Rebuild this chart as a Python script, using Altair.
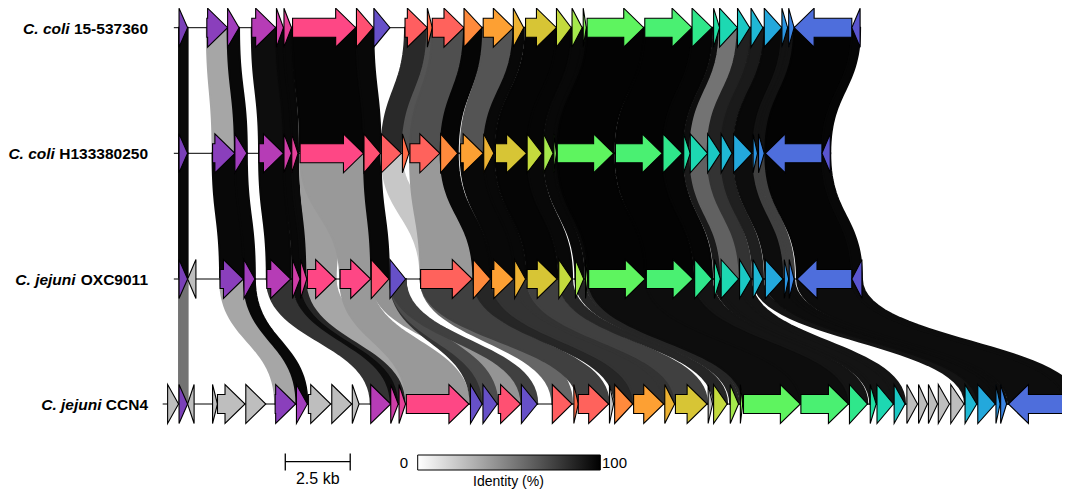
import altair as alt
import numpy as np
import pandas as pd

# ---------------- data ----------------
LABEL_SPECIES = ["C. coli", "C. coli", "C. jejuni", "C. jejuni"]
LABEL_STRAIN = ["15-537360", "H133380250", "OXC9011", "CCN4"]

FAMILIES = ["purple1", "purple2", "purple3", "magenta", "magenta2", "pink1", "pinkbig", "pinkred",
            "bluev", "salmon1", "orred", "salmon2", "orange1", "orange2", "yelor", "yellow",
            "yelgrn", "ltgrn", "tgrn", "green1", "green2", "grteal", "teal0", "teal1", "tealcy",
            "cyan", "sky", "blue1", "blue2", "bigblue", "violet", "other"]
FAMILY_COLORS = ["#7A40B8", "#8A3FBC", "#A13DBD", "#B63CB6", "#CF3DA8", "#E6419A", "#FE4785", "#FF5072",
                 "#6650C8", "#FF5E60", "#FF6C48", "#FF625C", "#FF8A3C", "#FDA033", "#EDB232", "#D7C535",
                 "#C4DA3D", "#A5E94C", "#85F056", "#5EF45F", "#4AF072", "#2FE78B", "#22DEA2", "#1DD8B2",
                 "#1BC8C4", "#1FB8D4", "#23A8DC", "#2A95E2", "#3A84E3", "#4E6EDC", "#5A55CF", "#BEBEBE"]

# locus extents (kb)
TRACK_START = [0.50, 0.50, 0.50, 0.07]
TRACK_END = [26.92, 25.77, 26.99, 35.38]

# genes (kb)
T1_START = [0.70, 1.77, 2.57, 3.50, 4.45, 4.74, 5.07, 7.53, 8.20, 9.40, 10.26, 10.45, 11.67, 12.41, 13.57,
            14.04, 15.23, 15.83, 16.26, 16.41, 18.63, 20.45, 21.28, 21.51, 22.20, 22.72, 23.23, 23.91,
            24.17, 24.38, 26.60]
T1_END = [1.03, 2.57, 3.01, 4.42, 4.72, 5.03, 7.50, 8.18, 8.82, 10.26, 10.45, 11.67, 12.37, 13.57, 13.97,
          15.23, 15.80, 16.22, 16.38, 18.59, 20.45, 21.22, 21.51, 22.20, 22.67, 23.18, 23.91, 24.13,
          24.38, 26.60, 26.92]
T1_STRAND = [1] * 29 + [-1, -1]
T1_FAM = ["purple1", "purple2", "purple3", "magenta", "magenta2", "pink1", "pinkbig", "pinkred", "bluev",
          "salmon1", "orred", "salmon2", "orange1", "orange2", "yelor", "yellow", "yelgrn", "ltgrn",
          "tgrn", "green1", "green2", "grteal", "teal0", "teal1", "tealcy", "cyan", "sky", "blue1",
          "blue2", "bigblue", "violet"]

T2_START = [0.70, 1.99, 2.85, 3.78, 4.74, 5.04, 5.36, 7.82, 8.49, 9.30, 9.59, 10.77, 11.54, 12.43, 12.88,
            14.10, 14.74, 15.13, 15.26, 17.50, 19.33, 20.13, 20.38, 21.05, 21.57, 22.05, 22.80, 23.01,
            23.27, 25.45]
T2_END = [1.03, 2.85, 3.31, 4.72, 5.03, 5.28, 7.80, 8.46, 9.26, 9.55, 10.74, 11.43, 12.41, 12.82, 14.08,
          14.68, 15.10, 15.23, 17.43, 19.30, 20.07, 20.38, 21.05, 21.54, 21.99, 22.76, 22.97, 23.23,
          25.45, 25.77]
T2_STRAND = [1] * 28 + [-1, -1]
T2_FAM = ["purple1", "purple2", "purple3", "magenta", "magenta2", "pink1", "pinkbig", "pinkred",
          "salmon1", "orred", "salmon2", "orange1", "orange2", "yelor", "yellow", "yelgrn", "ltgrn",
          "tgrn", "green1", "green2", "grteal", "teal0", "teal1", "tealcy", "cyan", "sky", "blue1",
          "blue2", "bigblue", "violet"]

T3_START = [0.70, 1.03, 2.28, 3.20, 4.08, 5.07, 5.38, 5.64, 6.90, 8.10, 8.82, 10.00, 12.03, 12.73, 13.62,
            14.10, 15.32, 15.96, 16.35, 16.47, 18.69, 20.55, 21.31, 21.57, 22.28, 22.80, 23.27, 24.00,
            24.19, 24.49, 26.60]
T3_END = [1.03, 1.35, 3.18, 3.62, 5.00, 5.36, 5.62, 6.73, 8.08, 8.78, 9.42, 11.99, 12.69, 13.59, 14.04,
          15.26, 15.83, 16.28, 16.43, 18.65, 20.49, 21.22, 21.54, 22.24, 22.72, 23.18, 23.95, 24.17,
          24.38, 26.60, 26.99]
T3_STRAND = [1, -1] + [1] * 27 + [-1, -1]
T3_FAM = ["purple1", "other", "purple2", "purple3", "magenta", "magenta2", "pink1", "pinkbig", "pinkbig",
          "pinkred", "bluev", "salmon2", "orange1", "orange2", "yelor", "yellow", "yelgrn", "ltgrn",
          "tgrn", "green1", "green2", "grteal", "teal0", "teal1", "tealcy", "cyan", "sky", "blue1",
          "blue2", "bigblue", "violet"]

T4_START = [0.26, 0.70, 1.03, 1.99, 2.18, 3.27, 4.40, 5.22, 5.68, 6.58, 7.37, 8.08, 8.85, 9.17, 9.45,
            11.92, 12.40, 12.99, 13.88, 15.07, 15.90, 16.07, 17.27, 17.47, 18.20, 19.40, 19.81, 21.07,
            21.28, 21.92, 22.31, 22.43, 24.64, 26.51, 27.31, 27.57, 28.23, 28.72, 29.17, 29.55, 29.93,
            30.41, 30.96, 31.45, 32.15, 32.33, 32.63, 34.81]
T4_END = [0.68, 1.03, 1.28, 2.18, 3.24, 4.04, 5.19, 5.64, 6.54, 7.35, 7.63, 8.85, 9.14, 9.42, 11.86,
          12.37, 12.95, 13.85, 14.49, 15.83, 16.07, 17.24, 17.43, 18.17, 19.36, 19.78, 21.03, 21.24,
          21.80, 22.24, 22.40, 24.62, 26.47, 27.20, 27.54, 28.20, 28.65, 29.13, 29.51, 29.90, 30.36,
          30.92, 31.41, 32.12, 32.31, 32.56, 34.81, 35.38]
T4_STRAND = [1, 1, -1] + [1] * 43 + [-1, -1]
T4_FAM = ["other", "purple1", "other", "other", "other", "other", "purple2", "purple3", "other", "other",
          "other", "magenta", "magenta2", "pink1", "pinkbig", "bluev", "bluev", "pinkred", "bluev",
          "salmon1", "orred", "salmon2", "other", "orange1", "orange2", "yelor", "yellow", "other",
          "yelgrn", "ltgrn", "tgrn", "green1", "green2", "grteal", "teal0", "teal1", "tealcy", "other",
          "other", "other", "other", "other", "cyan", "sky", "blue1", "blue2", "bigblue", "violet"]

# links between neighbouring loci: (gene in upper locus, gene in lower locus, identity %)
LINKS_12 = [(1, 1, 96), (2, 2, 35), (3, 3, 97), (4, 4, 95), (5, 5, 97), (6, 6, 97), (7, 7, 98), (8, 8, 97),
            (10, 9, 84), (11, 10, 67), (12, 11, 69), (13, 12, 98), (14, 13, 67), (15, 14, 97),
            (16, 15, 98), (17, 16, 98), (18, 17, 97), (19, 18, 97), (20, 19, 99), (21, 20, 99),
            (22, 21, 98), (23, 22, 95), (24, 23, 55), (25, 24, 87), (26, 25, 90), (27, 26, 97),
            (28, 27, 93), (29, 28, 93), (30, 29, 99), (31, 30, 98)]
LINKS_23 = [(1, 1, 97), (2, 3, 97), (3, 4, 97), (4, 5, 97), (5, 6, 97), (6, 7, 96), (7, 8, 38), (7, 9, 40),
            (8, 10, 97), (9, 12, 22), (11, 12, 40), (12, 13, 97), (13, 14, 97), (14, 15, 97), (15, 16, 98),
            (16, 17, 97), (17, 18, 97), (18, 19, 97), (19, 20, 99), (20, 21, 99), (21, 22, 98),
            (22, 23, 90), (23, 24, 62), (24, 25, 80), (25, 26, 88), (26, 27, 95), (27, 28, 75),
            (28, 29, 75), (29, 30, 98), (30, 31, 97)]
LINKS_34 = [(1, 2, 55), (3, 7, 35), (4, 8, 97), (5, 12, 80), (6, 13, 95), (7, 14, 85), (8, 15, 35),
            (9, 15, 40), (10, 18, 42), (11, 16, 80), (11, 17, 70), (11, 19, 75), (12, 20, 60), (12, 22, 75),
            (13, 24, 85), (14, 25, 80), (15, 26, 80), (16, 27, 75), (17, 29, 85), (18, 30, 85),
            (19, 31, 85), (20, 32, 95), (21, 33, 95), (22, 34, 92), (23, 35, 92), (24, 36, 92),
            (25, 37, 92), (26, 43, 92), (27, 44, 95), (28, 45, 95), (29, 46, 95), (30, 47, 95),
            (31, 48, 95)]

SCALE_BAR_KB = 2.5
SCALE_BAR_START = 4.79

# ---------------- layout / style ----------------
W, H = 1054, 481               # whole chart (page offset 8px)
PX_PER_KB = 26.0
X0_KB = (8 - 160) / PX_PER_KB   # left edge of chart in kb
X_DOMAIN = [X0_KB, X0_KB + W / PX_PER_KB]
Y_DOMAIN = [489, 8]            # vertical units = page pixels
ROW_Y = [27.7, 153.3, 279.0, 404.0]
HEAD_KB = 0.77
HEAD_HALF = 19.5
BODY_HALF = 9.5
FONT = "Liberation Sans"
LABEL_FS = 15.5
LABEL_RIGHT = 147 - 8

xscale = alt.Scale(domain=X_DOMAIN, nice=False, zero=False)
yscale = alt.Scale(domain=Y_DOMAIN, nice=False, zero=False)
idscale = alt.Scale(domain=[0, 100], range=["#ffffff", "#000000"], interpolate="rgb")

TRACKS = [(T1_START, T1_END, T1_STRAND, T1_FAM), (T2_START, T2_END, T2_STRAND, T2_FAM),
          (T3_START, T3_END, T3_STRAND, T3_FAM), (T4_START, T4_END, T4_STRAND, T4_FAM)]

# arrow polygons (points listed in x order; ties keep listed order)
arrow_rows = []
for ti, (st, en, sd, fm) in enumerate(TRACKS):
    c = ROW_Y[ti]
    for gi, (s, e, d, f) in enumerate(zip(st, en, sd, fm)):
        h = min(HEAD_KB, e - s)
        tri = h >= (e - s) - 1e-9
        if d > 0:
            pts = [(s, c - BODY_HALF, c + BODY_HALF), (e - h, c - BODY_HALF, c + BODY_HALF),
                   (e - h, c - HEAD_HALF, c + HEAD_HALF), (e, c, c)]
            if tri:
                pts = pts[2:]
        else:
            pts = [(s, c, c), (s + h, c - HEAD_HALF, c + HEAD_HALF),
                   (s + h, c - BODY_HALF, c + BODY_HALF), (e, c - BODY_HALF, c + BODY_HALF)]
            if tri:
                pts = pts[:2]
        for x, ya, yb in pts:
            arrow_rows.append(dict(gid=f"g{ti}_{gi}", fam=f, x=x, y=ya, y2=yb))
arrows_df = pd.DataFrame(arrow_rows)

# ribbons (bezier-shaped bands), rows listed top to bottom
S = np.linspace(0, 1, 31)
rib_rows = []
for pi, (links, ta, tb) in enumerate([(LINKS_12, 0, 1), (LINKS_23, 1, 2), (LINKS_34, 2, 3)]):
    y0, y1 = ROW_Y[ta], ROW_Y[tb]
    for li, (ia, ib, ident) in enumerate(links):
        a0, a1 = TRACKS[ta][0][ia - 1], TRACKS[ta][1][ia - 1]
        b0, b1 = TRACKS[tb][0][ib - 1], TRACKS[tb][1][ib - 1]
        for s in S:
            fx = 3 * s * s - 2 * s ** 3
            fy = 1.5 * s * (1 - s) + s ** 3
            rib_rows.append(dict(lid=f"l{pi}_{li}", ident=ident, y=y0 + (y1 - y0) * fy,
                                 x=a0 + (b0 - a0) * fx, x2=a1 + (b1 - a1) * fx))
rib_df = pd.DataFrame(rib_rows)

backbone_df = pd.DataFrame(dict(start=TRACK_START, end=TRACK_END, y=ROW_Y))

# label widths (Arial bold metrics) to right-align the two-style labels
CW = {"0": .556, "1": .556, "2": .556, "3": .556, "4": .556, "5": .556, "6": .556, "7": .556,
      "8": .556, "9": .556, "-": .333, "H": .722, "O": .778, "X": .667, "C": .722, "N": .722}
strain_w = [sum(CW.get(ch, .6) for ch in s) * LABEL_FS for s in LABEL_STRAIN]
label_df = pd.DataFrame(dict(species=LABEL_SPECIES, strain=LABEL_STRAIN, y=[r + 1 for r in ROW_Y],
                             xs=[LABEL_RIGHT - w - 0.278 * LABEL_FS for w in strain_w]))

ribbons = alt.Chart(rib_df).mark_area(orient="horizontal", interpolate="linear", strokeWidth=2,
                                      clip=True).encode(
    y=alt.Y("y:Q", scale=yscale, axis=None),
    x=alt.X("x:Q", scale=xscale, axis=None, stack=None),
    x2=alt.X2("x2"),
    color=alt.Color("ident:Q", scale=idscale, legend=None),
    stroke=alt.Stroke("ident:Q", scale=idscale, legend=None),
    detail=alt.Detail("lid:N"),
)

backbone = alt.Chart(backbone_df).mark_rule(color="black", strokeWidth=1, clip=True).encode(
    x=alt.X("start:Q", scale=xscale, axis=None), x2=alt.X2("end"),
    y=alt.Y("y:Q", scale=yscale, axis=None),
)

arrows = alt.Chart(arrows_df).mark_area(orient="vertical", interpolate="linear", stroke="black",
                                         strokeWidth=1.1, clip=True).encode(
    x=alt.X("x:Q", scale=xscale, axis=None),
    y=alt.Y("y:Q", scale=yscale, axis=None, stack=None),
    y2=alt.Y2("y2"),
    fill=alt.Fill("fam:N", scale=alt.Scale(domain=FAMILIES, range=FAMILY_COLORS), legend=None),
    detail=alt.Detail("gid:N"),
)

strain_txt = alt.Chart(label_df).mark_text(align="right", baseline="middle", font=FONT,
                                           fontWeight="bold", fontSize=LABEL_FS, color="black").encode(
    x=alt.value(LABEL_RIGHT), y=alt.Y("y:Q", scale=yscale, axis=None), text="strain:N")
species_txt = alt.Chart(label_df).mark_text(align="right", baseline="middle", font=FONT,
                                            fontWeight="bold", fontStyle="italic", fontSize=LABEL_FS,
                                            color="black").encode(
    x=alt.X("xs:Q", scale=None), y=alt.Y("y:Q", scale=yscale, axis=None), text="species:N")

# scale bar
sb_df = pd.DataFrame(dict(start=[SCALE_BAR_START], end=[SCALE_BAR_START + SCALE_BAR_KB],
                          mid=[SCALE_BAR_START + SCALE_BAR_KB / 2], label=[f"{SCALE_BAR_KB} kb"]))
sb_line = alt.Chart(sb_df).mark_rule(color="black", strokeWidth=1.3).encode(
    x=alt.X("start:Q", scale=xscale, axis=None), x2=alt.X2("end"), y=alt.value(461.7 - 8))
sb_l = alt.Chart(sb_df).mark_rule(color="black", strokeWidth=1.3).encode(
    x=alt.X("start:Q", scale=xscale, axis=None), y=alt.value(453.5 - 8), y2=alt.value(470.5 - 8))
sb_r = alt.Chart(sb_df).mark_rule(color="black", strokeWidth=1.3).encode(
    x=alt.X("end:Q", scale=xscale, axis=None), y=alt.value(453.5 - 8), y2=alt.value(470.5 - 8))
sb_txt = alt.Chart(sb_df).mark_text(font=FONT, fontSize=16, baseline="middle", color="black").encode(
    x=alt.X("mid:Q", scale=xscale, axis=None), y=alt.value(478.5 - 8), text="label:N")

# identity colour bar
cb_df = pd.DataFrame(dict(lo=["0"], hi=["100"], title=["Identity (%)"]))
gradient = {"gradient": "linear", "x1": 0, "x2": 1, "y1": 0, "y2": 0,
            "stops": [{"offset": 0, "color": "#ffffff"}, {"offset": 1, "color": "#000000"}]}
cb_rect = alt.Chart(cb_df).mark_rect(fill=gradient, stroke="black", strokeWidth=1).encode(
    x=alt.value(416.7 - 8), x2=alt.value(599.3 - 8), y=alt.value(455 - 8), y2=alt.value(470 - 8))
cb_lo = alt.Chart(cb_df).mark_text(font=FONT, fontSize=15, align="right", baseline="middle",
                                   color="black").encode(
    x=alt.value(407 - 8), y=alt.value(463 - 8), text="lo:N")
cb_hi = alt.Chart(cb_df).mark_text(font=FONT, fontSize=15, align="left", baseline="middle",
                                   color="black").encode(
    x=alt.value(601 - 8), y=alt.value(463 - 8), text="hi:N")
cb_title = alt.Chart(cb_df).mark_text(font=FONT, fontSize=14, align="center", baseline="middle",
                                      color="black").encode(
    x=alt.value(507.5 - 8), y=alt.value(481.5 - 8), text="title:N")

chart = alt.layer(
    ribbons, backbone, arrows, strain_txt, species_txt,
    sb_line, sb_l, sb_r, sb_txt, cb_rect, cb_lo, cb_hi, cb_title,
).properties(
    width=W, height=H, padding=0,
    autosize=alt.AutoSizeParams(type="fit", contains="padding"),
).configure_view(stroke=None)

chart.save("out.html", embed_options={"renderer": "svg", "actions": False})
